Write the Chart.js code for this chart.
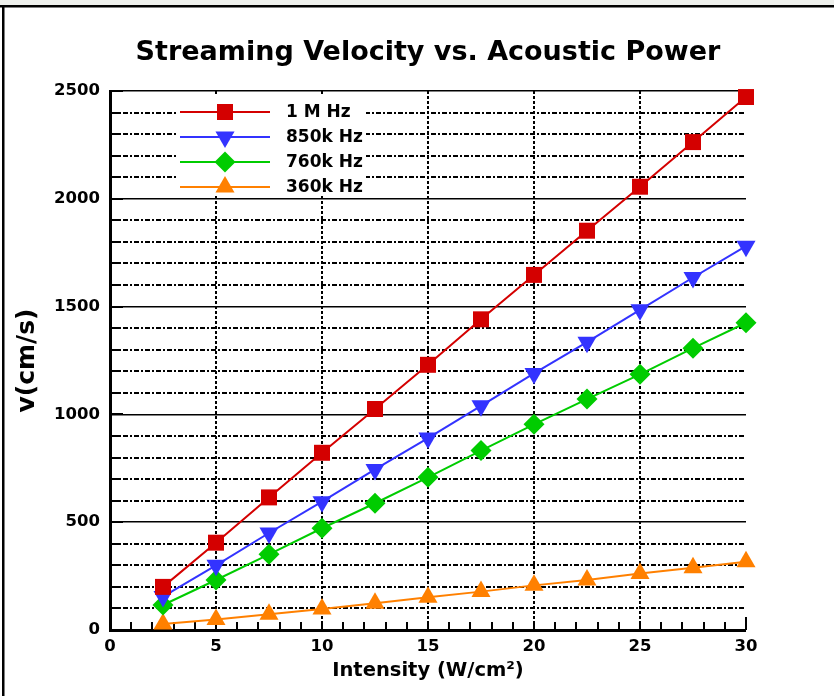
<!DOCTYPE html>
<html>
<head>
<meta charset="utf-8">
<title>Streaming Velocity vs. Acoustic Power</title>
<script src="https://cdn.jsdelivr.net/npm/chart.js@4.4.1/dist/chart.umd.min.js"></script>
<style>
  html, body { margin: 0; padding: 0; background: #ffffff; }
  #wrap { width: 834px; height: 696px; position: relative; }
  canvas { display: block; }
</style>
</head>
<body>
<div id="wrap"><canvas id="chart" width="834" height="696"></canvas></div>
<script>
// Intensity (W/cm²) at which velocities were measured
const intensity = [2.5, 5, 7.5, 10, 12.5, 15, 17.5, 20, 22.5, 25, 27.5, 30];

// Streaming velocity v (cm/s) per transducer frequency
const v1MHz   = [200, 405, 615, 822, 1025, 1230, 1441, 1647, 1852, 2056, 2263, 2472];
const v850kHz = [155, 300, 450, 595, 745, 890, 1040, 1190, 1335, 1485, 1635, 1780];
const v760kHz = [116, 232, 351, 472, 588, 708, 832, 954, 1071, 1186, 1307, 1425];
const v360kHz = [28, 49, 73, 97, 124, 152, 178, 207, 232, 262, 289, 317];

const seriesNames = ['1 M Hz', '850k Hz', '760k Hz', '360k Hz'];
const chartTitle = 'Streaming Velocity vs. Acoustic Power';
const xTitle = 'Intensity (W/cm\u00B2)';
const yTitle = 'v(cm/s)';

const FONT = '"DejaVu Sans", "Liberation Sans", Arial, sans-serif';

const seriesStyle = [
  { color: '#d40000', pointStyle: 'rect',     radius: 11.3, rotation: 0 },
  { color: '#3333ff', pointStyle: 'triangle', radius: 11,   rotation: 180 },
  { color: '#00cc00', pointStyle: 'rectRot',  radius: 10.5, rotation: 0 },
  { color: '#ff8000', pointStyle: 'triangle', radius: 11,   rotation: 0 }
];

const seriesValues = [v1MHz, v850kHz, v760kHz, v360kHz];

const datasets = seriesValues.map((vals, k) => {
  const s = seriesStyle[k];
  return {
    label: seriesNames[k],
    data: intensity.map((x, i) => ({ x: x, y: vals[i] })),
    borderColor: s.color,
    backgroundColor: s.color,
    borderWidth: 2,
    tension: 0,
    pointStyle: s.pointStyle,
    pointRadius: s.radius,
    pointHoverRadius: s.radius,
    pointRotation: s.rotation,
    pointBackgroundColor: s.color,
    pointBorderColor: s.color,
    pointBorderWidth: 0,
    clip: false
  };
});

// Page frame: light strip and rule along the top, rule down the left edge
const framePlugin = {
  id: 'frame',
  beforeDraw(chart) {
    const ctx = chart.ctx;
    ctx.save();
    ctx.fillStyle = '#ffffff';
    ctx.fillRect(0, 0, chart.width, chart.height);
    ctx.fillStyle = '#eef0ec';
    ctx.fillRect(0, 0, chart.width, 5);
    ctx.fillStyle = '#000000';
    ctx.fillRect(0, 5, chart.width, 2.5);
    ctx.fillRect(2, 6, 2.5, chart.height - 6);
    ctx.restore();
  }
};

// Chart heading
const headingPlugin = {
  id: 'heading',
  afterDraw(chart) {
    const ctx = chart.ctx;
    ctx.save();
    ctx.fillStyle = '#000000';
    ctx.font = 'bold 27px ' + FONT;
    ctx.textAlign = 'center';
    ctx.textBaseline = 'alphabetic';
    ctx.fillText(chartTitle, (chart.chartArea.left + chart.chartArea.right) / 2, 60);
    ctx.restore();
  }
};

// Inward-pointing tick marks on both axes
const innerTicksPlugin = {
  id: 'innerTicks',
  beforeDatasetsDraw(chart) {
    const ctx = chart.ctx;
    const xs = chart.scales.x, ys = chart.scales.y;
    const area = chart.chartArea;
    ctx.save();
    ctx.strokeStyle = '#000000';
    ctx.lineWidth = 2;
    ctx.beginPath();
    xs.ticks.forEach(t => {
      if (t.value <= 0) return;
      const px = Math.round(xs.getPixelForValue(t.value));
      const len = t.value >= 30 ? 13 : 8;
      ctx.moveTo(px, area.bottom);
      ctx.lineTo(px, area.bottom - len);
    });
    ys.ticks.forEach(t => {
      if (t.value <= 0) return;
      const py = Math.round(ys.getPixelForValue(t.value));
      const len = t.value % 500 === 0 ? 13 : 9;
      ctx.moveTo(area.left, py);
      ctx.lineTo(area.left + len, py);
    });
    ctx.stroke();
    ctx.restore();
  }
};

// Legend box inside the plot: line sample with marker, then the label
const legendBox = { left: 178, top: 94, width: 188, height: 102, firstRow: 112, rowGap: 25,
                    lineStart: 180, lineEnd: 270, textX: 286 };

const insetLegendPlugin = {
  id: 'insetLegend',
  afterDatasetsDraw(chart) {
    const ctx = chart.ctx;
    const L = legendBox;
    ctx.save();
    ctx.fillStyle = '#ffffff';
    ctx.fillRect(L.left, L.top, L.width, L.height);
    chart.data.datasets.forEach((ds, i) => {
      const y = L.firstRow + i * L.rowGap;
      ctx.strokeStyle = ds.borderColor;
      ctx.lineWidth = ds.borderWidth;
      ctx.beginPath();
      ctx.moveTo(L.lineStart, y);
      ctx.lineTo(L.lineEnd, y);
      ctx.stroke();
      ctx.fillStyle = ds.pointBackgroundColor;
      ctx.strokeStyle = ds.pointBorderColor;
      Chart.helpers.drawPoint(ctx, {
        pointStyle: ds.pointStyle,
        radius: ds.pointRadius,
        rotation: ds.pointRotation,
        borderWidth: 0
      }, (L.lineStart + L.lineEnd) / 2, y);
      ctx.fillStyle = '#000000';
      ctx.font = 'bold 17px ' + FONT;
      ctx.textAlign = 'left';
      ctx.textBaseline = 'middle';
      ctx.fillText(ds.label, L.textX, y + 1);
    });
    ctx.restore();
  }
};

new Chart(document.getElementById('chart'), {
  type: 'line',
  data: { datasets: datasets },
  options: {
    responsive: false,
    animation: false,
    devicePixelRatio: 1,
    layout: { padding: { left: 0, right: 88, top: 91, bottom: 0 } },
    plugins: {
      legend: { display: false },
      title: { display: false },
      tooltip: { enabled: false }
    },
    scales: {
      x: {
        type: 'linear',
        min: 0,
        max: 30,
        afterFit(scale) { scale.height = 66; },
        ticks: {
          stepSize: 1,
          autoSkip: false,
          maxRotation: 0,
          padding: 7,
          color: '#000000',
          font: { family: FONT, size: 16.5, weight: 'bold' },
          callback: (v) => (v % 5 === 0 ? String(v) : '')
        },
        grid: {
          drawTicks: false,
          color: '#000000',
          lineWidth: (c) => (c.tick && c.tick.value % 5 === 0 && c.tick.value > 0 && c.tick.value < 30 ? 2 : 0)
        },
        border: {
          display: true,
          color: '#000000',
          width: 3,
          dash: (c) => (c.tick ? [3, 2] : [])
        },
        title: {
          display: true,
          text: xTitle,
          color: '#000000',
          font: { family: FONT, size: 19.5, weight: 'bold' },
          padding: { top: 0, bottom: 13 }
        }
      },
      y: {
        type: 'linear',
        min: 0,
        max: 2500,
        afterFit(scale) { scale.width = 110; },
        ticks: {
          stepSize: 100,
          autoSkip: false,
          padding: 10,
          color: '#000000',
          font: { family: FONT, size: 16.5, weight: 'bold' },
          callback: (v) => (v % 500 === 0 ? String(v) : '')
        },
        grid: {
          drawTicks: false,
          color: '#000000',
          lineWidth: (c) => (c.tick && c.tick.value > 0 ? (c.tick.value % 500 === 0 ? 1.5 : 2) : 0)
        },
        border: {
          display: true,
          color: '#000000',
          width: 3,
          dash: (c) => (c.tick && c.tick.value % 500 !== 0 ? [5, 2, 2, 2] : [])
        },
        title: {
          display: true,
          text: yTitle,
          color: '#000000',
          font: { family: FONT, size: 25, weight: 'bold' },
          padding: { top: 12, bottom: 0 }
        }
      }
    }
  },
  plugins: [framePlugin, innerTicksPlugin, insetLegendPlugin, headingPlugin]
});
</script>
</body>
</html>
